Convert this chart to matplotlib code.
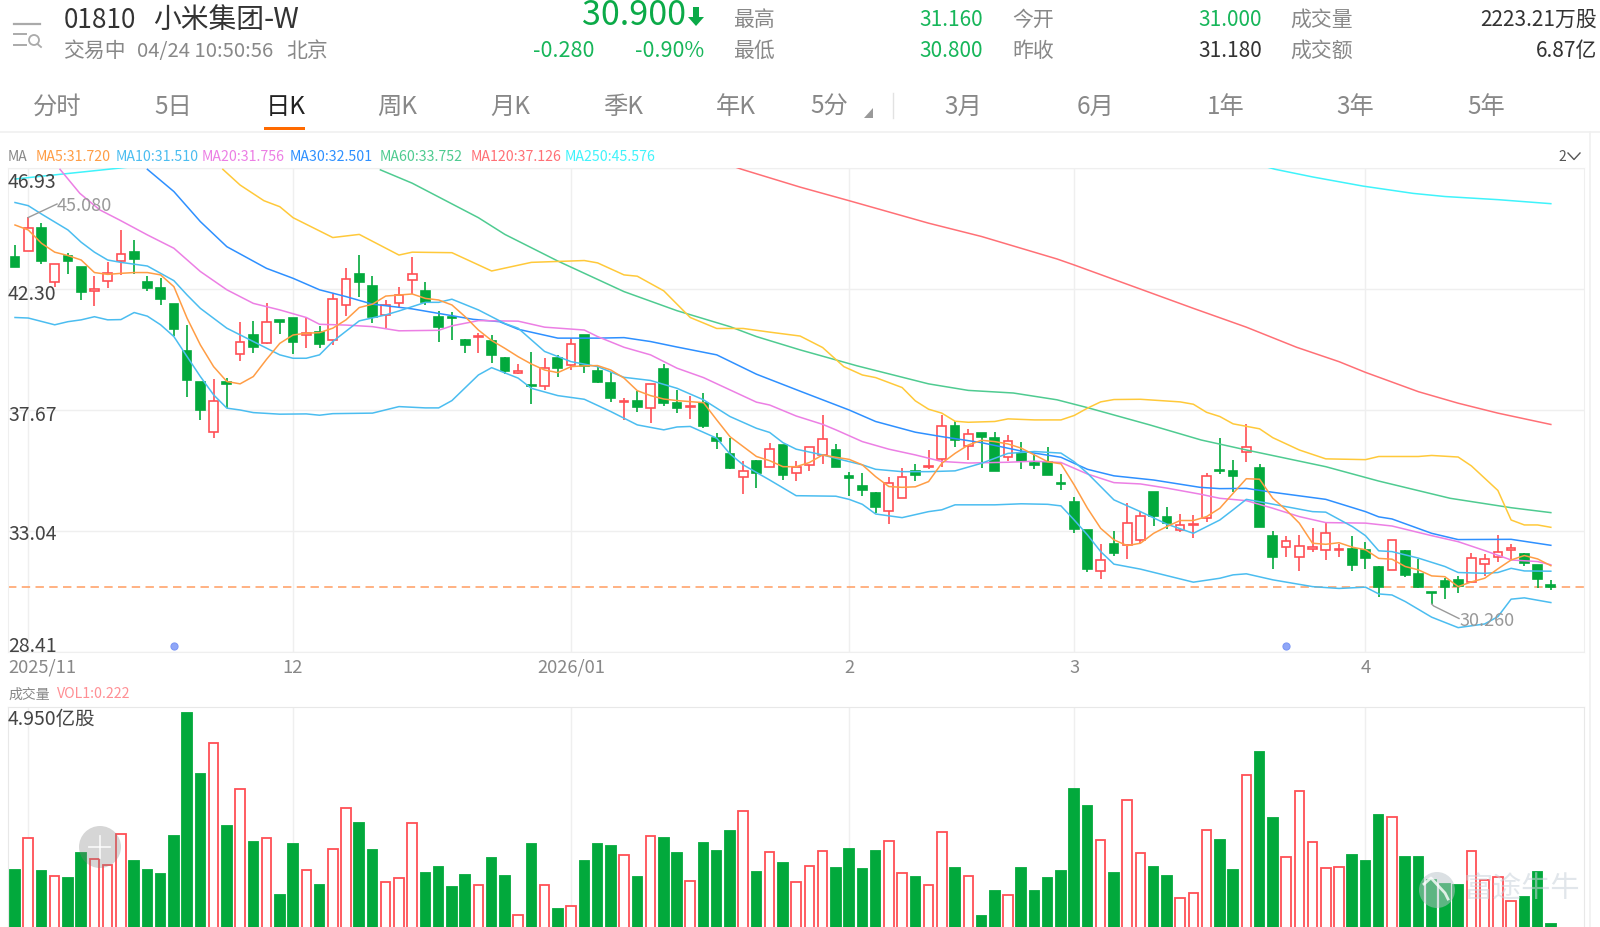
import matplotlib
matplotlib.use("Agg")
import matplotlib.pyplot as plt
from matplotlib.patches import Circle, Rectangle, Polygon

plt.rcParams['font.family'] = ['Noto Sans CJK SC', 'DejaVu Sans']

# ---- daily candles, 2025/11 to 04/24 ----
opens = [43.55,43.78,44.66,42.57,43.59,43.16,42.24,42.63,43.38,43.72,
         42.56,42.34,41.73,39.95,38.77,36.82,38.77,39.81,40.54,40.23,
         41.13,41.19,40.54,40.66,40.34,41.70,42.87,42.44,41.33,41.76,
         42.66,42.25,41.25,41.25,40.34,40.46,40.32,39.66,39.09,38.64,
         38.58,39.66,39.39,40.55,39.19,38.72,37.98,38.04,37.76,39.24,
         37.94,37.80,37.96,36.59,35.99,35.11,35.71,35.50,36.33,35.27,
         35.57,35.97,36.15,35.17,34.79,34.49,33.83,34.33,35.35,35.50,
         35.82,37.05,36.31,36.80,36.62,35.87,36.02,35.65,35.68,34.90,
         34.17,33.10,31.50,32.54,32.50,32.71,34.53,33.59,33.08,33.27,
         33.54,35.40,35.34,36.08,35.46,32.87,32.43,32.07,32.35,32.33,
         32.33,32.35,32.33,31.67,31.56,32.30,31.39,30.71,31.14,31.18,
         31.09,31.80,32.06,32.34,32.16,31.75,31.00]
closes = [43.17,44.66,43.40,43.26,43.40,42.21,42.30,42.91,43.64,43.46,
          42.34,41.93,40.77,38.82,37.68,38.04,38.67,40.27,40.09,41.04,
          41.03,40.29,40.64,40.20,41.92,42.70,42.57,41.24,41.70,42.08,
          42.89,41.80,40.87,41.19,40.18,40.50,39.77,39.17,39.16,38.58,
          39.29,39.29,40.21,39.37,38.74,38.15,38.03,37.80,38.68,37.94,
          37.77,37.84,37.08,36.48,35.46,35.36,35.25,36.19,35.21,35.50,
          36.27,36.57,35.50,35.07,34.61,33.96,34.88,35.13,35.21,35.55,
          37.05,36.53,36.75,36.66,35.36,36.50,35.74,35.58,35.18,34.85,
          33.14,31.59,31.94,32.20,33.37,33.64,33.63,33.35,33.26,33.32,
          35.16,35.35,35.14,36.27,33.21,32.07,32.66,32.48,32.43,32.96,
          32.36,31.76,32.03,30.90,32.72,31.37,30.90,30.67,30.90,30.95,
          32.01,31.97,32.26,32.39,31.82,31.20,30.90]
highs = [44.00,45.08,44.83,43.26,43.67,43.16,42.81,43.36,44.56,44.19,
         42.82,42.72,41.73,40.94,38.77,38.86,38.90,41.06,41.09,41.76,
         41.13,41.19,41.25,40.90,42.11,43.13,43.61,42.82,41.89,42.38,
         43.55,42.56,41.45,41.42,40.39,40.62,40.55,39.70,39.43,39.91,
         39.66,39.79,40.42,40.55,39.34,39.15,38.15,38.42,38.68,39.44,
         38.45,38.22,38.32,36.79,36.61,35.71,35.77,36.41,36.33,35.73,
         36.27,37.47,36.38,35.32,35.26,34.56,35.11,35.45,35.60,36.13,
         37.47,37.24,36.96,36.80,36.83,36.73,36.46,35.99,36.28,35.22,
         34.34,33.10,32.54,33.03,34.11,33.79,34.53,33.96,33.69,33.65,
         35.26,36.60,35.77,37.16,35.62,33.03,32.84,32.91,33.15,33.35,
         32.55,32.84,32.62,31.70,32.72,32.33,31.98,30.73,31.24,31.31,
         32.20,32.16,32.90,32.55,32.20,31.75,31.16]
lows = [43.17,43.78,43.26,42.40,42.90,41.89,41.65,42.34,42.85,42.87,
        42.25,41.68,40.50,38.19,37.28,36.61,37.75,39.56,39.88,40.20,
        40.59,39.81,40.07,40.07,40.17,41.28,41.99,41.00,40.83,41.64,
        42.12,41.70,40.28,40.36,39.88,39.88,39.47,39.05,39.06,37.92,
        38.45,38.96,39.21,39.11,38.70,38.00,37.29,37.61,37.17,37.85,
        37.56,37.35,36.98,36.19,35.44,34.48,34.70,35.50,35.00,34.98,
        35.36,35.62,35.50,34.37,34.37,33.73,33.32,34.33,34.98,35.44,
        35.51,36.28,35.77,35.46,35.34,35.71,35.41,35.42,35.18,34.60,
        32.99,31.47,31.20,32.11,31.99,32.58,33.24,33.13,33.00,32.78,
        33.40,35.22,34.56,35.69,33.21,31.61,32.07,31.52,32.24,31.93,
        32.05,31.52,31.59,30.53,31.56,31.28,30.86,30.26,30.46,30.67,
        31.05,31.33,31.85,31.99,31.71,30.86,30.80]

# traded volume, 100 million shares
volumes = [1.40,2.09,1.37,1.27,1.22,1.76,1.63,1.51,2.18,1.59,
           1.40,1.32,2.14,4.81,3.48,4.17,2.36,3.17,2.01,2.09,
           0.86,1.96,1.40,1.08,1.86,2.74,2.43,1.83,1.13,1.22,
           2.43,1.33,1.46,1.02,1.28,1.08,1.66,1.27,0.42,1.96,
           1.06,0.54,0.61,1.59,1.97,1.91,1.73,1.25,2.14,2.09,
           1.77,1.16,1.98,1.82,2.25,2.67,1.35,1.78,1.56,1.13,
           1.49,1.81,1.43,1.85,1.42,1.81,2.03,1.34,1.24,1.07,
           2.22,1.44,1.27,0.40,0.93,0.85,1.43,0.95,1.23,1.37,
           3.17,2.79,2.04,1.34,2.92,1.76,1.46,1.27,0.78,0.90,
           2.26,2.06,1.39,3.46,3.96,2.52,1.67,3.12,2.00,1.43,
           1.46,1.73,1.59,2.60,2.56,1.69,1.69,1.19,1.09,1.06,
           1.82,1.19,1.25,0.72,0.82,1.36,0.222]

# ---- moving averages: candle index and value pairs ----
ma5_vals = [44.76,44.57,44.06,43.72,43.59,43.42,42.94,42.87,42.91,42.94,
            42.94,42.85,42.40,41.19,40.17,39.34,38.77,38.68,38.96,39.62,
            40.23,40.55,40.62,40.64,40.81,41.13,41.60,41.73,42.04,42.08,
            42.12,41.95,41.89,41.70,41.25,40.74,40.34,40.04,39.72,39.44,
            39.21,39.11,39.34,39.37,39.38,39.21,38.90,38.42,38.23,38.10,
            38.04,38.00,37.96,37.30,36.66,36.28,35.90,35.74,35.51,35.51,
            35.67,35.96,35.87,35.79,35.58,35.13,34.75,34.72,34.74,34.94,
            35.64,36.02,36.34,36.52,36.47,36.38,36.22,35.96,35.70,35.62,
            34.81,33.92,33.15,32.71,32.49,32.58,32.96,33.22,33.45,33.45,
            33.60,33.92,34.49,35.05,35.03,34.30,33.86,33.35,32.58,32.54,
            32.60,32.43,32.33,32.00,31.97,31.69,31.56,31.33,31.30,30.92,
            31.10,31.24,31.60,31.94,32.11,31.98,31.72]
ma5_idx = list(range(len(ma5_vals)))

ma10_idx = [0,1,2,4,5,6,7,8,10,11,12,13,14,16,18,20,21,22,23,24,26,28,29,31,32,33,35,37,38,40,42,44,46,48,50,
            52,54,56,57,58,59,61,62,64,65,67,69,71,73,75,77,79,80,81,83,85,87,89,91,92,93,94,96,98,99,101,102,
            103,104,106,108,109,111,112,113,114,116]
ma10_vals = [45.62,45.50,45.18,44.57,44.10,43.72,43.42,43.33,43.19,42.91,42.63,42.08,41.57,40.81,40.30,39.79,
             39.66,39.66,39.79,40.30,41.09,41.32,41.47,41.80,41.80,41.92,41.51,40.99,40.81,39.92,39.53,39.34,
             38.93,38.81,38.51,38.07,37.43,36.98,36.82,36.43,36.18,35.96,35.83,35.58,35.41,35.32,35.32,35.35,
             35.64,36.02,36.09,36.03,35.70,35.26,34.24,33.79,33.31,32.96,33.47,33.86,34.26,34.17,33.98,33.79,
             33.77,33.22,32.87,32.29,32.26,32.01,31.69,31.46,31.43,31.46,31.62,31.52,31.51]

band_idx = [0,1,3,4,5,6,7,8,9,10,11,12,13,14,15,16,17,18,20,22,23,24,27,29,31,32,33,35,36,38,39,41,43,45,47,49,
            50,51,53,54,55,57,59,62,63,64,65,67,69,70,71,74,76,78,79,80,81,82,83,85,87,89,91,92,93,95,98,100,102,
            103,104,105,107,109,111,112,113,114,116]
band_vals = [41.22,41.20,40.94,41.06,41.13,41.25,41.13,41.14,41.41,41.27,40.94,40.49,39.72,38.96,38.26,37.75,
             37.68,37.58,37.52,37.53,37.48,37.54,37.56,37.81,37.76,37.76,38.04,39.02,39.30,38.90,38.51,38.23,
             38.09,37.62,37.11,36.92,37.03,37.05,36.60,36.00,35.58,35.00,34.40,34.38,34.26,34.07,33.70,33.56,
             33.79,33.86,34.05,34.05,34.09,34.07,34.01,33.47,32.90,32.26,31.78,31.59,31.34,31.09,31.24,31.37,
             31.41,31.18,30.92,30.85,30.90,30.64,30.60,30.35,29.75,29.35,29.49,29.77,30.44,30.49,30.31]

ma20_idx = [3.4,4.9,6.4,7.9,10,12,14,16,18,20,22,23,25,27,29,32,33,35,38,40,43,44,46,48,50,52,56,57,59,61,62,64,66,
            68,70,72,75,77,79,81,83,85,87,89.5,91,93,95,97,99,102,104,107,109,111,113,115,116]
ma20_vals = [46.89,45.97,45.34,44.95,44.38,43.87,42.98,42.28,41.76,41.51,41.22,40.96,40.93,40.87,40.71,40.73,
             40.90,41.10,41.08,40.85,40.74,40.49,40.08,39.79,39.28,38.92,37.98,37.87,37.45,37.13,36.92,36.47,
             36.18,35.96,35.71,35.65,35.68,35.72,35.67,35.23,34.90,34.85,34.69,34.46,34.30,34.21,33.92,33.60,
             33.37,33.35,33.24,32.87,32.64,32.30,31.94,31.88,31.756]

ma30_idx = [10,12,14,16,19,21,23,25,27,30,34.6,36.6,38,41,44,46,48,50,53,56,59.3,63,65,68,70,73,76,79,81,83,86,89.5,
            91,93,95,99,102,103,104,107,109,113,116]
ma30_vals = [46.89,46.04,44.89,43.93,43.10,42.72,42.28,42.02,41.73,41.55,41.15,41.06,40.77,40.43,40.43,40.45,
             40.30,40.09,39.79,39.05,38.40,37.68,37.24,36.83,36.66,36.43,36.11,35.87,35.41,35.16,35.00,34.72,
             34.67,34.68,34.53,34.26,33.79,33.59,33.51,32.96,32.72,32.73,32.501]

ma60_idx = [27.6,30,35,37,41,46,50,54,56,59.3,63.6,69,72,75.4,78.7,81,85.7,89.6,93,94.5,99,103,108.4,113,116]
ma60_vals = [46.87,46.36,45.04,44.40,43.38,42.21,41.48,40.87,40.49,39.98,39.37,38.68,38.43,38.33,38.07,37.77,
             37.11,36.53,36.15,35.99,35.51,34.96,34.30,33.94,33.752]

ma120_idx = [50,54.9,59.3,63,69,73,78.7,80,84.5,89,93,96.8,100,102,106,109,112,116]
ma120_vals = [47.75,46.89,46.21,45.69,44.83,44.32,43.46,43.23,42.40,41.57,40.85,40.08,39.53,39.12,38.38,37.94,
              37.56,37.126]

ma250_idx = [0,7,20,40,60,80,90,95.2,98,101.8,105.6,108,112,116]
ma250_vals = [46.52,46.89,47.60,48.00,48.00,47.80,47.60,46.89,46.60,46.25,45.97,45.85,45.73,45.576]

upper_idx = [15.7,17,18.8,20,21,24,26,29,30,33,36,39,43,44,46,47,49,51,53,55,57,59.3,61,62.6,64,65,67,68,69,70,71,
             72,74,75,77,79,80,81,82,83,85,88,89,90,91,92,94,95,97,99,102,103,106,107,109,110,112,113,114,115,116]
upper_vals = [46.89,46.29,45.69,45.46,45.04,44.28,44.40,43.61,43.72,43.70,43.00,43.33,43.40,43.31,42.85,42.80,
              42.24,41.22,40.80,40.80,40.66,40.51,40.07,39.34,39.02,38.92,38.54,38.03,37.71,37.56,37.25,37.21,
              37.24,37.34,37.30,37.30,37.47,37.75,37.99,38.08,38.09,37.99,37.90,37.59,37.43,37.15,36.96,36.62,
              36.15,35.81,35.78,35.90,35.90,35.94,35.88,35.54,34.60,33.47,33.28,33.28,33.19]

# ---- axis labels ----
price_ticks = [46.93, 42.30, 37.67, 33.04, 28.41]
month_idx = [1, 21, 42, 63, 80, 102]
month_labels = ['2025/11', '12', '2026/01', '2', '3', '4']
last_price = 30.90
blue_dot_idx = [12, 96]
blue_dot_price = 28.64
vol_top = 4.95

RED, GREEN = '#FF4F55', '#02A93C'
TXT_GREEN = '#17B65A'
GRID = '#EFEFEF'
C_MA5, C_MA10, C_MA20, C_MA30 = '#FF9D45', '#4BBDF0', '#EC7FE4', '#2E90FF'
C_MA60, C_MA120, C_MA250, C_UP = '#4FCB91', '#FF7076', '#3FF3FB', '#FFC93A'

W, H = 1600, 927
X0, X_STEP = 15.0, 13.24   # pixel position of the first candle, spacing


def box(x0, top, x1, bottom):
    return [x0 / W, 1 - bottom / H, (x1 - x0) / W, (bottom - top) / H]


fig = plt.figure(figsize=(16, 9.27), dpi=100, facecolor='white')
xlim = ((8 - X0) / X_STEP, (1584 - X0) / X_STEP)

# ---- price panel ----
ax = fig.add_axes(box(8, 168.3, 1584, 652.2))
ax.set_xlim(*xlim)
ax.set_ylim(28.41, 46.93)
for p in price_ticks:
    ax.axhline(p, color=GRID, lw=1, zorder=0)
for m in month_idx:
    ax.axvline(m, color=GRID, lw=1, zorder=0)
for s in ax.spines.values():
    s.set_color(GRID)
ax.set_xticks([])
ax.set_yticks([])
ax.axhline(last_price, color='#FF9D60', lw=1.1, dashes=(5.5, 3.5), zorder=2)

for i, (o, h, l, c) in enumerate(zip(opens, highs, lows, closes)):
    up = c >= o
    col = RED if up else GREEN
    ax.plot([i, i], [l, h], color=col, lw=1.2, solid_capstyle='butt', zorder=3)
    ax.add_patch(Rectangle((i - 0.33, min(o, c)), 0.66, max(abs(c - o), 0.04),
                           facecolor='white' if up else GREEN,
                           edgecolor=col, lw=1.2, zorder=4))

for xs, ys, col in [(ma250_idx, ma250_vals, C_MA250), (ma120_idx, ma120_vals, C_MA120),
                    (ma60_idx, ma60_vals, C_MA60), (upper_idx, upper_vals, C_UP),
                    (ma30_idx, ma30_vals, C_MA30), (ma20_idx, ma20_vals, C_MA20),
                    (band_idx, band_vals, C_MA10), (ma10_idx, ma10_vals, C_MA10),
                    (ma5_idx, ma5_vals, C_MA5)]:
    ax.plot(xs, ys, color=col, lw=1.1, zorder=5, solid_joinstyle='round')

ax.scatter(blue_dot_idx, [blue_dot_price] * len(blue_dot_idx), s=26, facecolor='#8FA6F7',
           edgecolor='#7C97F5', lw=0.8, zorder=5)

# ---- volume panel ----
vax = fig.add_axes(box(8, 706.7, 1584, 934.2))
vax.set_xlim(*xlim)
vax.set_ylim(0, vol_top)
for m in month_idx:
    vax.axvline(m, color=GRID, lw=1, zorder=0)
for s in vax.spines.values():
    s.set_color('#E8E8E8')
vax.set_xticks([])
vax.set_yticks([])
for i, (o, c, v) in enumerate(zip(opens, closes, volumes)):
    up = c >= o
    col = RED if up else GREEN
    vax.bar(i, v, width=0.72, facecolor='white' if up else GREEN,
            edgecolor=col, lw=1.3, zorder=3)

# ---- page furniture, placed in pixel coordinates ----
ui = fig.add_axes([0, 0, 1, 1], zorder=10)
ui.set_xlim(0, W)
ui.set_ylim(H, 0)
ui.axis('off')
ui.patch.set_alpha(0)


def label(x, y, s, size, color='#888888', ha='left', **kw):
    ui.text(x, y + 2, s, fontsize=size, color=color, ha=ha, va='center', **kw)


# header: menu icon
ui.plot([14, 40], [23.5, 23.5], color='#AAAAAA', lw=1.6)
ui.plot([14, 26], [34, 34], color='#AAAAAA', lw=1.4)
ui.plot([14, 26], [44.5, 44.5], color='#AAAAAA', lw=1.4)
ui.add_patch(Circle((34, 40), 5, fill=False, edgecolor='#AAAAAA', lw=1.3))
ui.plot([37.5, 41], [44, 47], color='#AAAAAA', lw=1.3)

label(64, 18, '01810', 18.8, '#333333')
label(153, 18, '小米集团', 20, '#333333')
label(264, 18, '-W', 21, '#333333')
label(63, 49, '交易中', 15)
label(137, 49, '04/24 10:50:56', 14.6)
label(286, 49, '北京', 15)

label(582, 13.8, '30.900', 24.5, '#0BAA48')
ui.add_patch(Polygon([(693, 7), (699, 7), (699, 17), (704, 17), (696, 26), (688, 17), (693, 17)],
                     closed=True, facecolor='#0BAA48', edgecolor='none'))
label(594, 49, '-0.280', 15.5, TXT_GREEN, ha='right')
label(704, 49, '-0.90%', 15.5, TXT_GREEN, ha='right')

for x, a, b in [(733, '最高', '最低'), (1012, '今开', '昨收'), (1290, '成交量', '成交额')]:
    label(x, 18, a, 15)
    label(x, 49, b, 15)
label(983, 18, '31.160', 15, TXT_GREEN, ha='right')
label(983, 49, '30.800', 15, TXT_GREEN, ha='right')
label(1262, 18, '31.000', 15, TXT_GREEN, ha='right')
label(1262, 49, '31.180', 15, '#333333', ha='right')
label(1597, 18, '2223.21万股', 15, '#333333', ha='right')
label(1597, 49, '6.87亿', 15, '#333333', ha='right')

# period tabs
for x, s in [(57, '分时'), (173, '5日'), (397, '周K'), (510, '月K'), (623, '季K'), (736, '年K'),
             (829, '5分'), (963, '3月'), (1096, '6月'), (1226, '1年'), (1355, '3年'), (1486, '5年')]:
    label(x, 105, s, 17.5, ha='center')
label(286, 105, '日K', 17.5, '#222222', ha='center')
ui.add_patch(Rectangle((264, 127), 41, 3.2, facecolor='#FF6A00', edgecolor='none'))
ui.add_patch(Polygon([(864, 118), (873, 118), (873, 108)], closed=True, facecolor='#999999', edgecolor='none'))
ui.plot([893, 893], [93, 118], color='#E2E2E2', lw=1)
ui.plot([0, W], [131.5, 131.5], color='#F0F0F0', lw=1.2)
ui.plot([1590, 1590], [131.5, H], color='#F0F0F0', lw=1.2)

# moving-average legend
label(8, 155, 'MA', 10)
for x, name, series, col in [(36, 'MA5', ma5_vals, C_MA5), (116, 'MA10', ma10_vals, C_MA10),
                             (201.5, 'MA20', ma20_vals, C_MA20), (290, 'MA30', ma30_vals, C_MA30),
                             (380, 'MA60', ma60_vals, C_MA60), (471, 'MA120', ma120_vals, C_MA120),
                             (565, 'MA250', ma250_vals, C_MA250)]:
    label(x, 155, f'{name}:{series[-1]:.3f}', 10.2, col)
label(1558, 155, '2', 10, '#555555')
ui.plot([1568, 1574, 1580], [153, 159.5, 153], color='#555555', lw=1)

# price scale labels
for y, p in zip([180, 292, 413, 533, 645], price_ticks):
    label(8, y, f'{p:.2f}', 14, '#444444')

# high and low call-outs
hx = X0 + X_STEP * highs.index(max(highs))
ui.plot([hx, 57], [217.5, 204], color='#9A9A9A', lw=1)
label(57, 204, f'{max(highs):.3f}', 13, '#999999')
lx = X0 + X_STEP * lows.index(min(lows))
ui.plot([lx, lx + 2, 1459], [604, 606, 618.5], color='#9A9A9A', lw=1)
label(1460, 619, f'{min(lows):.3f}', 13, '#999999')

# month labels
label(8, 666, month_labels[0], 13.2)
for m, s in zip(month_idx[1:], month_labels[1:]):
    label(X0 + X_STEP * m, 666, s, 13.2, ha='center')

# volume captions
label(8, 692.5, '成交量', 10)
label(57, 692.5, f'VOL1:{volumes[-1]:.3f}', 10.2, '#FF8F94')
label(8, 717.5, f'{vol_top:.3f}亿股', 14, '#444444')

# zoom button over the bars
ui.add_patch(Circle((100, 847), 21, facecolor='#808080', alpha=0.32, edgecolor='none'))
ui.plot([89, 110], [847, 847], color='white', lw=1.3, alpha=0.8)
ui.plot([100, 100], [836, 858], color='white', lw=1.3, alpha=0.8)

# faint brand mark, lower right
ui.add_patch(Circle((1437, 890), 18, facecolor='#B8C2C8', alpha=0.5, edgecolor='none'))
ui.plot([1424, 1431, 1445, 1448], [884, 878, 893, 899], color='white', lw=2, alpha=0.8)
label(1464, 888, '富途牛牛', 21, '#CAD3DB', alpha=0.55)

fig.savefig('out.png', dpi=100, facecolor='white')
